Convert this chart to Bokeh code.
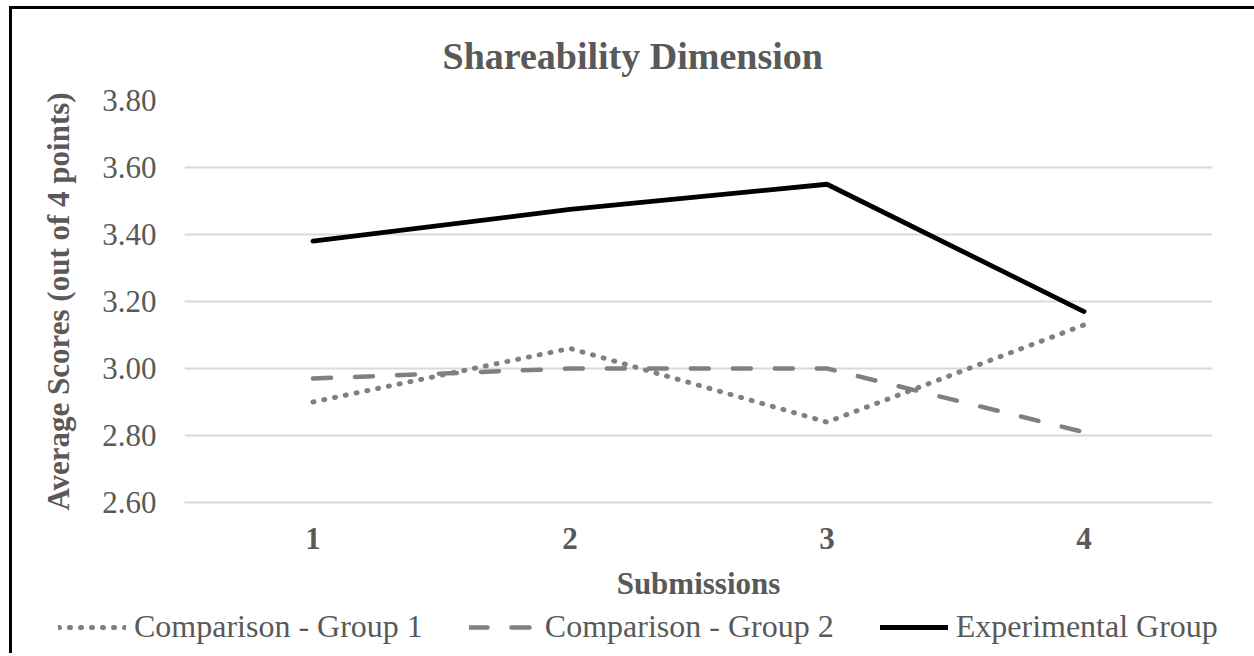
from bokeh.plotting import figure
from bokeh.layouts import column
from bokeh.models import (FactorRange, Range1d, FixedTicker, NumeralTickFormatter,
                          Legend, LegendItem)
from bokeh.embed import file_html
from bokeh.resources import INLINE

submissions = ["1", "2", "3", "4"]
comparison_1 = [2.90, 3.06, 2.84, 3.13]
comparison_2 = [2.97, 3.00, 3.00, 2.81]
experimental = [3.38, 3.475, 3.55, 3.17]
y_ticks = [2.6, 2.8, 3.0, 3.2, 3.4, 3.6, 3.8]
series_names = ["Comparison - Group 1", "Comparison - Group 2", "Experimental Group"]

FONT = "Liberation Serif"
GRAY = "#595959"
STYLES = [
    dict(line_color="#808080", line_width=5, line_dash="1 10", line_cap="round"),
    dict(line_color="#808080", line_width=4.5, line_dash="18 24", line_cap="round"),
    dict(line_color="black", line_width=4.8, line_cap="round", line_join="round"),
]
SERIES = [comparison_1, comparison_2, experimental]

x_range = FactorRange(*submissions, range_padding=0)

p = figure(
    x_range=x_range,
    y_range=Range1d(2.6, 3.8),
    width=1242, height=594,
    output_backend="svg", toolbar_location=None,
    min_border_left=172, min_border_right=42,
    min_border_top=91, min_border_bottom=101,
    background_fill_color="white", border_fill_color="white",
)
p.frame_align = False
p.outline_line_color = None

p.title.text = "Shareability Dimension"
p.title.align = "left"
p.title.offset = 258
p.title.text_font = FONT
p.title.text_font_size = "38px"
p.title.text_font_style = "bold"
p.title.text_color = GRAY
p.title.standoff = 47

for ys, st in zip(SERIES, STYLES):
    p.line(submissions, ys, **st)

p.xgrid.grid_line_color = None
p.ygrid.grid_line_color = "#d9d9d9"
p.ygrid.grid_line_width = 2

p.yaxis.ticker = FixedTicker(ticks=y_ticks)
p.yaxis.formatter = NumeralTickFormatter(format="0.00")
p.yaxis.axis_line_color = None
p.yaxis.major_tick_line_color = None
p.yaxis.minor_tick_line_color = None
p.yaxis.major_label_text_font = FONT
p.yaxis.major_label_text_font_size = "31px"
p.yaxis.major_label_text_color = GRAY
p.yaxis.major_label_standoff = 22
p.yaxis.axis_label = "Average Scores (out of 4 points)"
p.yaxis.axis_label_text_font = FONT
p.yaxis.axis_label_text_font_size = "31px"
p.yaxis.axis_label_text_font_style = "bold"
p.yaxis.axis_label_text_color = GRAY
p.yaxis.axis_label_standoff = 23

p.xaxis.axis_line_color = "#d9d9d9"
p.xaxis.axis_line_width = 2
p.xaxis.major_tick_line_color = None
p.xaxis.minor_tick_line_color = None
p.xaxis.major_label_text_font = FONT
p.xaxis.major_label_text_font_size = "31px"
p.xaxis.major_label_text_font_style = "bold"
p.xaxis.major_label_text_color = GRAY
p.xaxis.major_label_standoff = 19
p.xaxis.axis_label = "Submissions"
p.xaxis.axis_label_text_font = FONT
p.xaxis.axis_label_text_font_size = "31px"
p.xaxis.axis_label_text_font_style = "bold"
p.xaxis.axis_label_text_color = GRAY
p.xaxis.axis_label_standoff = 14

# legend strip below the chart: same series drawn out of view, only their legend samples show
lf = figure(
    width=1242, height=50, x_range=x_range, y_range=Range1d(10, 11),
    output_backend="svg", toolbar_location=None,
    x_axis_location=None, y_axis_location=None,
    min_border=0, background_fill_color="white", border_fill_color="white",
)
lf.frame_align = False
lf.outline_line_color = None
lf.grid.grid_line_color = None
items = []
for name, ys, st in zip(series_names, SERIES, STYLES):
    r = lf.line(submissions, ys, **st)
    items.append(LegendItem(label=name, renderers=[r]))

legend = Legend(
    items=items,
    orientation="horizontal",
    location=(46, 8),
    label_text_font=FONT,
    label_text_font_size="32px",
    label_text_color=GRAY,
    glyph_width=68,
    glyph_height=20,
    label_standoff=8,
    spacing=46,
    padding=0,
    margin=0,
    border_line_color=None,
    background_fill_alpha=0,
)
lf.add_layout(legend, "center")

layout = column(p, lf, spacing=0)
layout.margin = (6, 0, 0, 9)
layout.styles = {"border-left": "3px solid black", "border-top": "3px solid black"}

open("out.html", "w").write(file_html(layout, INLINE))
